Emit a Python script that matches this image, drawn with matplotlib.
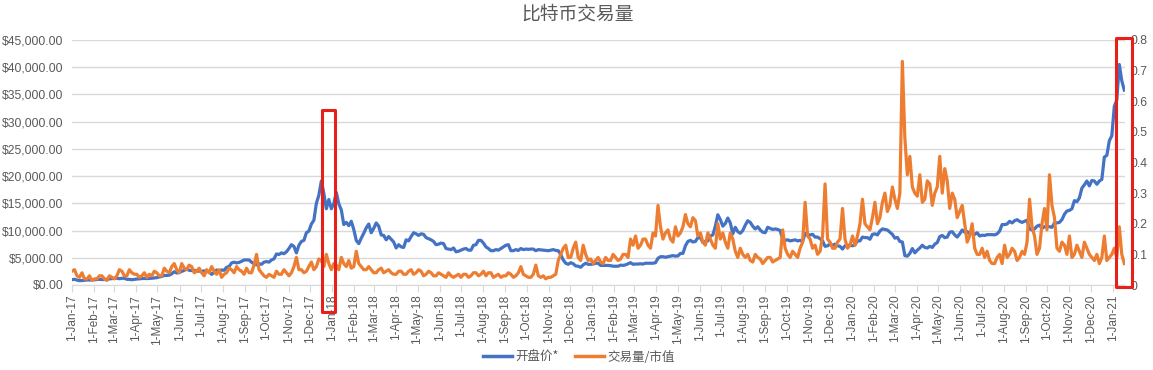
from itertools import zip_longest

import numpy as np
import pandas as pd
import matplotlib
matplotlib.use("Agg")
import matplotlib.pyplot as plt
from matplotlib.patches import Rectangle
from matplotlib.ticker import FuncFormatter

plt.rcParams['font.family'] = ['Liberation Sans', 'Noto Sans CJK SC', 'DejaVu Sans']

# values: one list per year for Sundays (wk) and one for
# the following Wednesday noon (mid), starting 2017-01-01
price_wk_2017 = [970, 900, 820, 920, 920,
                 1020, 1000, 1050, 1180,
                 1260, 1230, 1040, 970,
                 1100, 1190, 1180, 1240, 1350,
                 1580, 1750, 2050, 2200,
                 2500, 2950, 2650, 2550,
                 2500, 2500, 1950, 2750, 2750,
                 3250, 4050, 4050, 4350,
                 4600, 4200, 3700, 3800,
                 4300, 4600, 5700, 5900, 6100,
                 7400, 5900, 8000, 9600,
                 11200, 15000, 19100, 14000, 14000]
price_mid_2017 = [1050, 800, 880, 920, 970,
                  1050, 1010, 1120, 1220,
                  1150, 1240, 1040, 1040,
                  1130, 1200, 1210, 1300, 1480,
                  1750, 1800, 2450, 2300,
                  2700, 2700, 2700, 2550,
                  2600, 2400, 2300, 2600, 2700,
                  3400, 4200, 4150, 4600,
                  4600, 3900, 3900, 4200,
                  4200, 4800, 5600, 5750, 6700,
                  7100, 7300, 8200, 9900,
                  11900, 16500, 16800, 15700, 15000]
price_wk_2018 = [17000, 13800, 11500, 11700,
                 8200, 8600, 10500, 9600,
                 11400, 9200, 8300, 8400,
                 6800, 7000, 8300, 8900, 9400,
                 9400, 8700, 8300, 7400,
                 7700, 6700, 6500, 6100,
                 6400, 6700, 6400, 7400, 8200,
                 7000, 6300, 6500, 6700,
                 7300, 6300, 6500, 6700, 6600,
                 6600, 6300, 6450, 6350,
                 6400, 6350, 5600, 4000,
                 4100, 3500, 3250, 4000, 3800]
price_mid_2018 = [14900, 11100, 10900, 10200,
                  7600, 9500, 11200, 10400,
                  10800, 9100, 8900, 7900,
                  7400, 6900, 8100, 9600, 9100,
                  9300, 8500, 8000, 7500,
                  7600, 6600, 6800, 6200,
                  6600, 6400, 7300, 8200, 7700,
                  6700, 6300, 6400, 7000,
                  7400, 6300, 6350, 6500, 6550,
                  6600, 6500, 6400, 6300,
                  6500, 6300, 4600, 3800,
                  3900, 3450, 3700, 3800, 3850]
price_wk_2019 = [4000, 3600, 3600, 3550,
                 3450, 3650, 3700, 4100,
                 3850, 3900, 4000, 4000, 4100,
                 5200, 5100, 5300, 5300,
                 5800, 7200, 8200, 8000,
                 8700, 8000, 9000, 10800, 12000,
                 11300, 11400, 10600, 9500,
                 11000, 11500, 10300, 10100,
                 9600, 10400, 10300, 10000, 8200,
                 8100, 8300, 8200, 9500,
                 9200, 8800, 8500, 7100,
                 7500, 7500, 7100, 7200, 7300]
price_mid_2019 = [4000, 3600, 3600, 3450,
                  3450, 3600, 3900, 3800,
                  3850, 3850, 4000, 4000, 4900,
                  5200, 5200, 5400, 5350,
                  5800, 8000, 7900, 8700,
                  7800, 8100, 9200, 12900, 10800,
                  12300, 9400, 9800, 10000,
                  11800, 10800, 10700, 9700,
                  10600, 10200, 10200, 8400, 8300,
                  8200, 8100, 8000, 9200,
                  9300, 8800, 8100, 7200,
                  7300, 7200, 6600, 7300, 7200]
price_wk_2020 = [7400, 8100, 8700, 8400,
                 9400, 9900, 10200, 9700,
                 8600, 8000, 5400, 5800, 5900,
                 6800, 6900, 7100, 7500,
                 8900, 8700, 9700, 9200, 9400,
                 9700, 9400, 9300, 9000,
                 9100, 9250, 9200, 9900,
                 11100, 11700, 11800, 11700, 11700,
                 10300, 10300, 11000, 10700,
                 10700, 11400, 11500, 13000,
                 13700, 15500, 16000, 18400, 18200,
                 19100, 19100, 23500, 26500]
price_mid_2020 = [8100, 8800, 8700, 9300,
                  9200, 10300, 10100, 9300,
                  8750, 7900, 5300, 6700, 6400,
                  7300, 6800, 6900, 7800,
                  9100, 8800, 9800, 8800, 10100,
                  9800, 9500, 9600, 9150,
                  9250, 9250, 9400, 11100,
                  11200, 11400, 12000, 11500, 11900,
                  10100, 10800, 10400, 10800,
                  10600, 11400, 12000, 13600,
                  14000, 15300, 17800, 19100, 19200,
                  18500, 19400, 23800, 27400]
price_wk_2021 = [32800, 40500, 35800]
price_mid_2021 = [34000, 37500]

ratio_wk_2017 = [0.045, 0.03, 0.04, 0.02, 0.015,
                 0.02, 0.03, 0.015, 0.025,
                 0.03, 0.045, 0.03, 0.04,
                 0.035, 0.03, 0.025, 0.03, 0.04,
                 0.03, 0.045, 0.06, 0.05,
                 0.07, 0.05, 0.06, 0.045,
                 0.04, 0.05, 0.06, 0.035, 0.025,
                 0.04, 0.05, 0.06, 0.045,
                 0.055, 0.04, 0.10, 0.04,
                 0.025, 0.03, 0.045, 0.035, 0.04,
                 0.04, 0.09, 0.05, 0.045,
                 0.075, 0.06, 0.08, 0.10, 0.05]
ratio_mid_2017 = [0.05, 0.025, 0.02, 0.03, 0.02,
                  0.03, 0.02, 0.03, 0.02,
                  0.05, 0.03, 0.05, 0.035,
                  0.025, 0.04, 0.035, 0.045, 0.03,
                  0.055, 0.04, 0.07, 0.04,
                  0.055, 0.065, 0.04, 0.055,
                  0.03, 0.04, 0.045, 0.05, 0.035,
                  0.055, 0.04, 0.05, 0.035,
                  0.04, 0.065, 0.05, 0.03,
                  0.035, 0.025, 0.035, 0.05, 0.03,
                  0.06, 0.05, 0.04, 0.06,
                  0.05, 0.085, 0.06, 0.07, 0.07]
ratio_wk_2018 = [0.065, 0.09, 0.06, 0.055,
                 0.11, 0.06, 0.05, 0.05,
                 0.04, 0.055, 0.045, 0.04,
                 0.035, 0.045, 0.035, 0.05, 0.04,
                 0.045, 0.035, 0.04, 0.03,
                 0.035, 0.025, 0.03, 0.03,
                 0.025, 0.035, 0.03, 0.04, 0.035,
                 0.03, 0.04, 0.03, 0.025,
                 0.03, 0.035, 0.03, 0.06, 0.03,
                 0.025, 0.065, 0.025, 0.02,
                 0.025, 0.035, 0.10, 0.13,
                 0.09, 0.14, 0.08, 0.10, 0.085]
ratio_mid_2018 = [0.05, 0.07, 0.08, 0.06,
                  0.07, 0.05, 0.06, 0.04,
                  0.05, 0.04, 0.05, 0.035,
                  0.045, 0.035, 0.045, 0.035, 0.05,
                  0.03, 0.045, 0.03, 0.04,
                  0.03, 0.04, 0.025, 0.035,
                  0.035, 0.025, 0.04, 0.03, 0.045,
                  0.04, 0.025, 0.035, 0.03,
                  0.04, 0.025, 0.04, 0.035, 0.025,
                  0.035, 0.03, 0.03, 0.025,
                  0.03, 0.08, 0.12, 0.09,
                  0.12, 0.09, 0.13, 0.08, 0.07]
ratio_wk_2019 = [0.08, 0.075, 0.09, 0.08,
                 0.09, 0.085, 0.10, 0.15,
                 0.16, 0.13, 0.15, 0.12, 0.16,
                 0.19, 0.17, 0.15, 0.19,
                 0.17, 0.23, 0.19, 0.21,
                 0.17, 0.13, 0.15, 0.12, 0.15,
                 0.14, 0.17, 0.11, 0.12,
                 0.09, 0.08, 0.10, 0.085,
                 0.08, 0.09, 0.08, 0.09, 0.12,
                 0.09, 0.10, 0.12, 0.27,
                 0.15, 0.13, 0.11, 0.33,
                 0.14, 0.12, 0.15, 0.15, 0.13]
ratio_mid_2019 = [0.09, 0.07, 0.08, 0.10,
                  0.08, 0.10, 0.09, 0.13,
                  0.12, 0.15, 0.13, 0.17, 0.26,
                  0.15, 0.18, 0.14, 0.16,
                  0.19, 0.20, 0.22, 0.16,
                  0.14, 0.17, 0.13, 0.20, 0.17,
                  0.12, 0.15, 0.09, 0.10,
                  0.10, 0.075, 0.09, 0.07,
                  0.09, 0.075, 0.085, 0.18, 0.10,
                  0.11, 0.09, 0.14, 0.16,
                  0.12, 0.10, 0.16, 0.15,
                  0.12, 0.14, 0.25, 0.12, 0.16]
ratio_wk_2020 = [0.13, 0.20, 0.20, 0.18,
                 0.27, 0.22, 0.30, 0.26,
                 0.28, 0.30, 0.48, 0.42, 0.30,
                 0.36, 0.28, 0.33, 0.30,
                 0.42, 0.38, 0.25, 0.28, 0.24,
                 0.20, 0.16, 0.12, 0.10,
                 0.09, 0.08, 0.07, 0.10,
                 0.13, 0.10, 0.11, 0.09, 0.10,
                 0.28, 0.16, 0.12, 0.25,
                 0.36, 0.22, 0.11, 0.13,
                 0.16, 0.10, 0.11, 0.14, 0.10,
                 0.08, 0.07, 0.16, 0.09]
ratio_mid_2020 = [0.16, 0.28, 0.19, 0.22,
                  0.20, 0.27, 0.24, 0.32,
                  0.25, 0.73, 0.36, 0.32, 0.29,
                  0.27, 0.34, 0.26, 0.32,
                  0.30, 0.34, 0.30, 0.22, 0.26,
                  0.14, 0.20, 0.10, 0.12,
                  0.11, 0.07, 0.09, 0.07,
                  0.09, 0.12, 0.08, 0.11, 0.14,
                  0.19, 0.10, 0.20, 0.18,
                  0.26, 0.12, 0.14, 0.10,
                  0.09, 0.13, 0.09, 0.12, 0.09,
                  0.10, 0.09, 0.08, 0.10]
ratio_wk_2021 = [0.12, 0.19, 0.07]
ratio_mid_2021 = [0.09, 0.10]


def merge(wk, mid):
    out = []
    for w, m in zip_longest(wk, mid):
        out.append(w)
        if m is not None:
            out.append(m)
    return out


price_wk = price_wk_2017 + price_wk_2018 + price_wk_2019 + price_wk_2020 + price_wk_2021
price_mid = price_mid_2017 + price_mid_2018 + price_mid_2019 + price_mid_2020 + price_mid_2021
ratio_wk = ratio_wk_2017 + ratio_wk_2018 + ratio_wk_2019 + ratio_wk_2020 + ratio_wk_2021
ratio_mid = ratio_mid_2017 + ratio_mid_2018 + ratio_mid_2019 + ratio_mid_2020 + ratio_mid_2021

price = merge(price_wk, price_mid)
ratio = merge(ratio_wk, ratio_mid)
dates = pd.date_range('2017-01-01', periods=len(price), freq='84h')

blue = '#4472C4'
orange = '#ED7D31'
grey = '#595959'
gridc = '#D9D9D9'
cjk = ['Noto Sans CJK SC', 'DejaVu Sans']

fig = plt.figure(figsize=(11.53, 3.70), dpi=100)
ax = fig.add_axes([72 / 1153, 1 - 285 / 370, (1125 - 72) / 1153, 245 / 370])
ax2 = ax.twinx()

ax.plot(dates, price, color=blue, lw=2.3, solid_joinstyle='round')
ax2.plot(dates, ratio, color=orange, lw=2.3, solid_joinstyle='round')

ax.set_ylim(0, 45000)
ax.set_yticks(np.arange(0, 45001, 5000))
ax.yaxis.set_major_formatter(FuncFormatter(lambda v, p: f"${v:,.2f}"))
ax2.set_ylim(0, 0.8)
ax2.set_yticks(np.arange(0, 0.81, 0.1))
ax2.yaxis.set_major_formatter(FuncFormatter(lambda v, p: "0" if v == 0 else f"{v:.1f}"))

ax.set_xlim(pd.Timestamp('2017-01-01'), pd.Timestamp('2021-01-18'))
months = pd.date_range('2017-01-01', '2021-01-01', freq='MS')
ax.set_xticks(months)
ax.set_xticklabels([f"1-{m.strftime('%b-%y')}" for m in months], rotation=90)

ax.grid(axis='y', color=gridc, lw=1)
ax.set_axisbelow(True)
for a in (ax, ax2):
    for s in ('top', 'left', 'right', 'bottom'):
        a.spines[s].set_visible(False)
ax.spines['bottom'].set_visible(True)
ax.spines['bottom'].set_color(gridc)

ax.tick_params(axis='x', colors=grey, labelsize=8.5, length=5, color=gridc, pad=2)
ax.tick_params(axis='y', colors=grey, labelsize=8.7, length=0, pad=6)
ax2.tick_params(axis='y', colors=grey, labelsize=8.7, length=0, pad=4)

fig.text(578 / 1153, 1 - 14 / 370, '比特币交易量', ha='center', va='center',
         fontsize=13.5, color=grey, family=cjk)

# legend
h1, = ax.plot([], [], color=blue, lw=2.5)
h2, = ax.plot([], [], color=orange, lw=2.5)
fig.legend([h1, h2], ['开盘价*', '交易量/市值'], loc='center',
           bbox_to_anchor=(579 / 1153, 1 - 357 / 370), ncol=2, frameon=False,
           handlelength=2.3, handletextpad=0.3, columnspacing=1.3,
           labelcolor=grey, prop={'family': cjk, 'size': 9})

# red highlight boxes
for x0, y0, x1, y1 in [(322, 110, 335, 312), (1116, 38, 1132, 287)]:
    fig.patches.append(Rectangle((x0 / 1153, 1 - y1 / 370), (x1 - x0) / 1153, (y1 - y0) / 370,
                                 transform=fig.transFigure, fill=False, ec='#E8201A', lw=2.2,
                                 joinstyle='round', zorder=10))

fig.savefig('out.png', dpi=100)
